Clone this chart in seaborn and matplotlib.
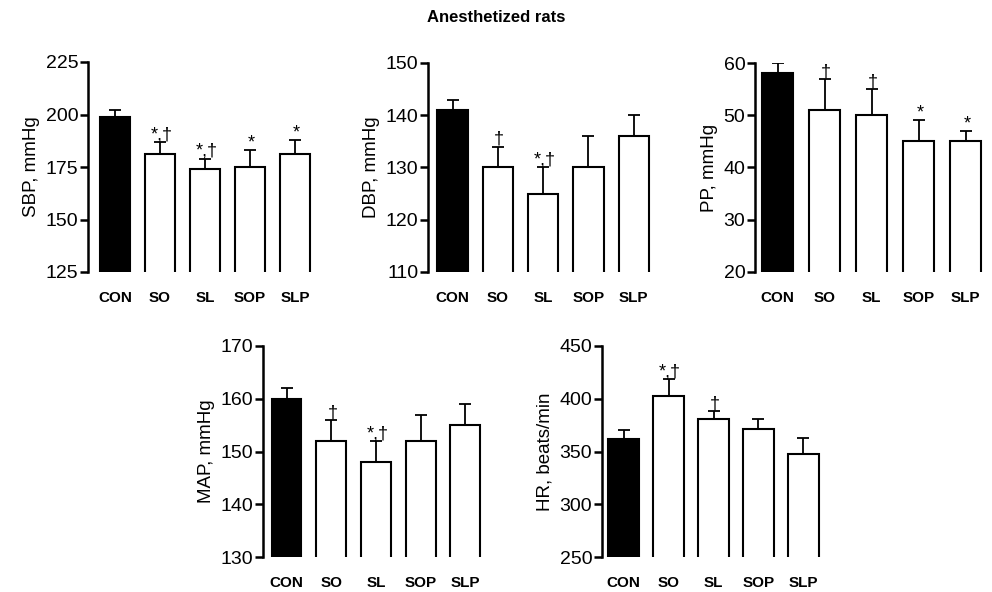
import matplotlib
matplotlib.use("Agg")
import matplotlib.pyplot as plt
import seaborn as sns
import pandas as pd

groups = ["CON", "SO", "SL", "SOP", "SLP"]

sbp_mean = [199, 181, 174, 175, 181]
sbp_top = [202, 187, 179, 183, 188]
sbp_marks = ["", "*,†", "*,†", "*", "*"]

dbp_mean = [141, 130, 125, 130, 136]
dbp_top = [143, 134, 130, 136, 140]
dbp_marks = ["", "†", "*,†", "", ""]

pp_mean = [58, 51, 50, 45, 45]
pp_top = [60, 57, 55, 49, 47]
pp_marks = ["", "†", "†", "*", "*"]

map_mean = [160, 152, 148, 152, 155]
map_top = [162, 156, 152, 157, 159]
map_marks = ["", "†", "*,†", "", ""]

hr_mean = [362, 403, 381, 371, 348]
hr_top = [370, 419, 388, 381, 363]
hr_marks = ["", "*,†", "†", "", ""]

sns.set_theme(style="white")
plt.rcParams["font.family"] = ["Liberation Sans", "DejaVu Sans"]
plt.rcParams["text.color"] = "black"
plt.rcParams["axes.labelcolor"] = "black"
plt.rcParams["xtick.color"] = "black"
plt.rcParams["ytick.color"] = "black"

W, H = 992, 592
fig = plt.figure(figsize=(W / 100, H / 100), dpi=100)

panels = [
    (sbp_mean, sbp_top, sbp_marks, "SBP, mmHg", (125, 225), [125, 150, 175, 200, 225], 88, 115, 45, 62, 272),
    (dbp_mean, dbp_top, dbp_marks, "DBP, mmHg", (110, 150), [110, 120, 130, 140, 150], 428, 452.5, 45.3, 63, 272),
    (pp_mean, pp_top, pp_marks, "PP, mmHg", (20, 60), [20, 30, 40, 50, 60], 755, 777.5, 47, 63, 272),
    (map_mean, map_top, map_marks, "MAP, mmHg", (130, 170), [130, 140, 150, 160, 170], 263, 286.5, 44.7, 346, 557),
    (hr_mean, hr_top, hr_marks, "HR, beats/min", (250, 450), [250, 300, 350, 400, 450], 602, 623.5, 45, 346, 557),
]

palette = ["black", "white", "white", "white", "white"]

for mean, top, marks, ylabel, ylim, yticks, axl, c0, sp, tpx, bpx in panels:
    xmin = -(c0 - axl) / sp
    xmax = 4.45
    width_px = (xmax - xmin) * sp
    ax = fig.add_axes([axl / W, 1 - bpx / H, width_px / W, (bpx - tpx) / H])
    df = pd.DataFrame({"group": groups, "value": mean})
    sns.barplot(data=df, x="group", y="value", hue="group", palette=palette,
                edgecolor="black", linewidth=1.5, width=0.67, legend=False,
                ax=ax, zorder=3, errorbar=None)
    xs = [p.get_x() + p.get_width() / 2 for p in ax.patches]
    upper = [t - m for t, m in zip(top, mean)]
    ax.errorbar(xs, mean, yerr=[[0] * len(mean), upper], fmt="none",
                ecolor="black", elinewidth=1.3, capsize=4.5, capthick=1.3, zorder=1)
    for x, t, mk in zip(xs, top, marks):
        if mk:
            ax.annotate(mk, (x, t), xytext=(1, -1), textcoords="offset points",
                        ha="center", va="bottom", fontsize=13)
    ax.set_xlim(xmin, xmax)
    ax.set_ylim(*ylim)
    ax.set_yticks(yticks)
    ax.set_xlabel("")
    ax.set_ylabel(ylabel, fontsize=13.5, labelpad=4)
    for s in ["top", "right", "bottom"]:
        ax.spines[s].set_visible(False)
    ax.spines["left"].set_linewidth(1.8)
    ax.spines["left"].set_color("black")
    ax.tick_params(axis="y", direction="out", length=6, width=1.8, color="black",
                   labelsize=14, pad=1, left=True)
    ax.tick_params(axis="x", length=0, pad=14, labelsize=11)
    for lbl in ax.get_xticklabels():
        lbl.set_fontweight("bold")
    ax.set_facecolor("white")

fig.text(496 / W, 1 - 18 / H, "Anesthetized rats", ha="center", va="center",
         fontsize=12, fontweight="bold")

fig.savefig("out.png", dpi=100, facecolor="white")
